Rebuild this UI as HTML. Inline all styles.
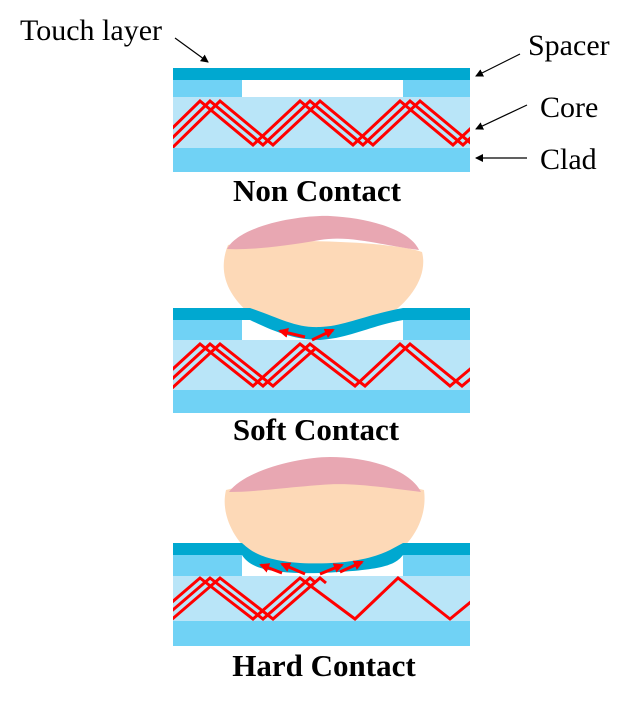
<!DOCTYPE html>
<html><head><meta charset="utf-8"><style>
html,body{margin:0;padding:0;background:#fff;}
svg{display:block;font-family:"Liberation Serif",serif;}
</style></head><body>
<svg width="632" height="703" viewBox="0 0 632 703">
<defs>
<marker id="ah" markerWidth="8" markerHeight="8" refX="7" refY="4" orient="auto" markerUnits="userSpaceOnUse"><path d="M0,0 L8,4 L0,8 z" fill="#000"/></marker>
<marker id="rh" markerWidth="10" markerHeight="10" refX="8" refY="5" orient="auto" markerUnits="userSpaceOnUse"><path d="M0,0 L10,5 L0,10 z" fill="#f00"/></marker>
<clipPath id="c1"><rect x="173" y="97" width="297" height="51"/></clipPath>
<clipPath id="c2"><rect x="173" y="340" width="297" height="50"/></clipPath>
<clipPath id="c3"><rect x="173" y="576" width="297" height="45"/></clipPath>
</defs>

<g>
<rect x="173" y="68" width="297" height="12" fill="#00a8d0"/>
<rect x="173" y="80" width="69" height="17" fill="#70d2f5"/>
<rect x="403" y="80" width="67" height="17" fill="#70d2f5"/>
<rect x="173" y="97" width="297" height="51" fill="#b9e5f8"/>
<rect x="173" y="148" width="297" height="24" fill="#70d2f5"/>
<g clip-path="url(#c1)" fill="none" stroke="#f00" stroke-width="3">
<polyline points="150,150 200,101 253,145 300,101 353,145 400,101 453,145 500,101"/>
<polyline points="160,150 210,101 263,145 310,101 363,145 410,101 463,145 510,101"/>
<polyline points="170,150 220,101 273,145 320,101 373,145 420,101 473,145 520,101"/>
</g>
<text x="317" y="201" font-size="31" font-weight="bold" text-anchor="middle">Non Contact</text>
</g>

<text x="20" y="40" font-size="30">Touch layer</text>
<line x1="175" y1="38" x2="208" y2="62" stroke="#000" stroke-width="1.2" marker-end="url(#ah)"/>
<text x="528" y="55" font-size="30">Spacer</text>
<line x1="520" y1="54" x2="476" y2="76" stroke="#000" stroke-width="1.2" marker-end="url(#ah)"/>
<text x="540" y="117" font-size="30">Core</text>
<line x1="527" y1="105" x2="476" y2="129" stroke="#000" stroke-width="1.2" marker-end="url(#ah)"/>
<text x="540" y="169" font-size="30">Clad</text>
<line x1="527" y1="158" x2="476" y2="158" stroke="#000" stroke-width="1.2" marker-end="url(#ah)"/>

<g>
<rect x="173" y="320" width="69" height="20" fill="#70d2f5"/>
<rect x="403" y="320" width="67" height="20" fill="#70d2f5"/>
<rect x="173" y="340" width="297" height="50" fill="#b9e5f8"/>
<rect x="173" y="390" width="297" height="23" fill="#70d2f5"/>
<path d="M228,245 C218,270 225,295 255,318 C280,334 350,335 385,318 C412,300 428,275 422,252 C390,240 260,238 228,245 z" fill="#fdd9b7"/>
<path d="M227,249 C240,225 300,215 330,216 C370,218 410,230 419,250 C380,245 350,235 320,240 C280,247 250,250 227,249 z" fill="#e8a7b2"/>
<path d="M173,308 L250,308 C280,318 295,328 320,327 C345,326 365,315 403,308 L470,308 L470,320 L403,320 C370,326 350,338 320,340 C295,340 275,332 250,320 L173,320 z" fill="#00a8d0"/>
<g clip-path="url(#c2)" fill="none" stroke="#f00" stroke-width="3">
<polyline points="150,390 200,344 253,386 300,344 355,386 400,344 450,386 500,344"/>
<polyline points="160,390 210,344 263,386 310,344 365,386 410,344 462,386 512,344"/>
<polyline points="170,390 220,344 273,386 316,348"/>
</g>
<line x1="305" y1="337" x2="280" y2="331" stroke="#f00" stroke-width="3" marker-end="url(#rh)"/>
<line x1="312" y1="340" x2="333" y2="330" stroke="#f00" stroke-width="3" marker-end="url(#rh)"/>
<text x="316" y="440" font-size="31" font-weight="bold" text-anchor="middle">Soft Contact</text>
</g>

<g>
<rect x="173" y="555" width="69" height="21" fill="#70d2f5"/>
<rect x="403" y="555" width="67" height="21" fill="#70d2f5"/>
<rect x="173" y="576" width="297" height="45" fill="#b9e5f8"/>
<rect x="173" y="621" width="297" height="25" fill="#70d2f5"/>
<path d="M226,490 C220,515 235,542 255,557 C275,570 360,572 385,560 C410,548 428,520 424,490 C390,480 260,480 226,490 z" fill="#fdd9b7"/>
<path d="M229,492 C245,470 300,457 330,457 C370,457 410,470 421,492 C380,487 350,482 320,485 C280,488 255,492 229,492 z" fill="#e8a7b2"/>
<path d="M173,543 L242,543 C250,550 260,560 300,563 C340,565 370,560 390,550 L403,543 L470,543 L470,555 L403,555 C395,565 385,570 320,573 C270,574 250,568 242,555 L173,555 z" fill="#00a8d0"/>
<g clip-path="url(#c3)" fill="none" stroke="#f00" stroke-width="3">
<polyline points="150,621 200,578 253,619 300,578 355,619 398,578 450,619 500,578"/>
<polyline points="160,621 210,578 263,619 310,578 316,583"/>
<polyline points="170,621 220,578 273,619 320,578 326,583"/>
</g>
<line x1="282" y1="573" x2="261" y2="565" stroke="#f00" stroke-width="3" marker-end="url(#rh)"/>
<line x1="305" y1="574" x2="282" y2="564" stroke="#f00" stroke-width="3" marker-end="url(#rh)"/>
<line x1="320" y1="574" x2="342" y2="565" stroke="#f00" stroke-width="3" marker-end="url(#rh)"/>
<line x1="340" y1="572" x2="362" y2="562" stroke="#f00" stroke-width="3" marker-end="url(#rh)"/>
<text x="324" y="676" font-size="31" font-weight="bold" text-anchor="middle">Hard Contact</text>
</g>
</svg>
</body></html>
